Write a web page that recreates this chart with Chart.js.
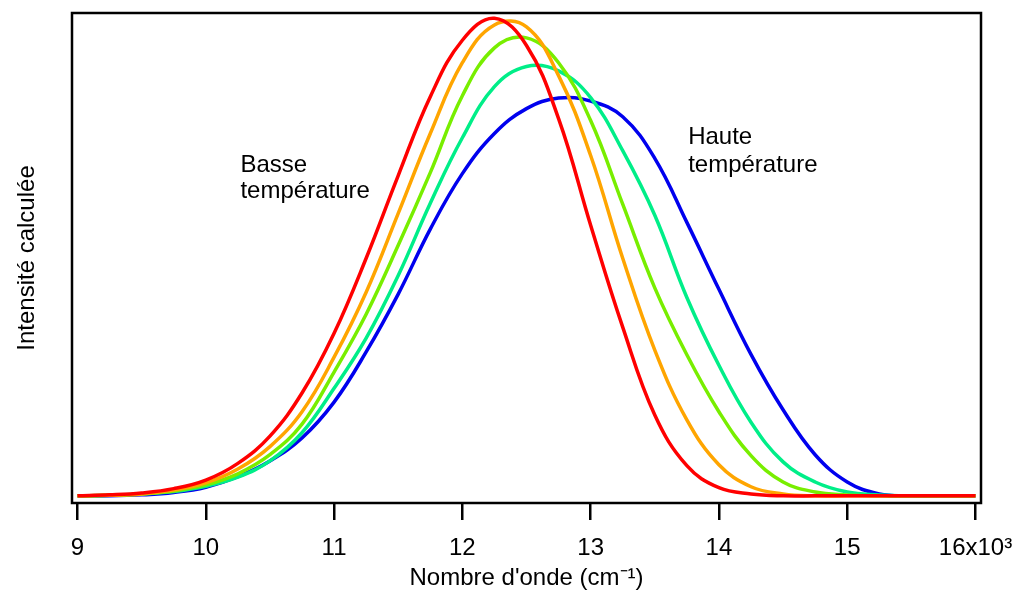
<!DOCTYPE html>
<html>
<head>
<meta charset="utf-8">
<script src="https://cdn.jsdelivr.net/npm/chart.js@4"></script>
<style>
  html, body { margin: 0; padding: 0; background: #fff; }
  #wrap { width: 1015px; height: 590px; }
</style>
</head>
<body>
<div id="wrap"><canvas id="spectre" width="1015" height="590"></canvas></div>
<script>
// nombre d'onde (x 10^3 cm-1)
const waveNumbers = [9, 9.25, 9.5, 9.75, 10, 10.25, 10.5, 10.75, 11, 11.25, 11.5, 11.75, 12, 12.25, 12.5, 12.75, 13, 13.25, 13.5, 13.75, 14, 14.25, 14.5, 14.75, 15, 15.25, 15.5, 15.75, 16];

// intensite calculee, basse -> haute temperature
const tempRed    = [0, 0.2, 0.6, 1.5, 3.3, 6.8, 12.5, 21.5, 34.0, 49.7, 67.0, 83.5, 95.3, 99.9, 94.2, 78.9, 56.6, 35.3, 16.9, 6.3, 1.7, 0.4, 0, 0, 0, 0, 0, 0, 0];
const tempOrange = [0, 0.1, 0.4, 1.2, 2.7, 5.6, 10.3, 17.6, 29.0, 42.6, 59.1, 75.8, 90.6, 98.5, 98.1, 87.9, 71.2, 49.7, 30.5, 15.9, 6.5, 1.9, 0.4, 0, 0, 0, 0, 0, 0];
const tempGreen  = [0, 0.1, 0.4, 1.0, 2.3, 4.6, 8.6, 15.0, 25.9, 38.0, 52.4, 67.6, 83.7, 93.7, 95.8, 90.6, 78.5, 61.0, 43.5, 29.5, 17.6, 8.4, 2.9, 0.8, 0.2, 0, 0, 0, 0];
const tempTeal   = [0, 0.1, 0.4, 0.9, 2.0, 3.9, 7.3, 13.2, 22.5, 33.0, 46.1, 61.2, 74.9, 85.6, 89.8, 88.9, 83.3, 72.2, 58.7, 41.5, 27.3, 15.4, 7.1, 2.9, 0.8, 0.2, 0, 0, 0];
const tempBlue   = [0, 0, 0.2, 0.7, 1.8, 4.0, 7.3, 12.1, 19.6, 30.1, 42.2, 55.8, 67.4, 75.8, 81.0, 83.2, 82.6, 79.3, 70.6, 57.2, 43.2, 29.6, 18.0, 8.6, 2.9, 0.4, 0, 0, 0];

const tickValues = [9, 10, 11, 12, 13, 14, 15, 16];
const tickLabels = ['9', '10', '11', '12', '13', '14', '15', '16x10\u00b3'];

const notes = [
  { text: 'Basse', x: 10.27, y: 67.8 },
  { text: 'température', x: 10.27, y: 62.2 },
  { text: 'Haute', x: 13.76, y: 73.6 },
  { text: 'température', x: 13.76, y: 67.8 },
];

const FONT = "'Liberation Sans', Arial, sans-serif";

const toPoints = (ys) => waveNumbers.map((x, i) => ({ x: x, y: ys[i] }));

const series = [
  { data: tempRed, color: '#ff0000' },
  { data: tempOrange, color: '#ffa500' },
  { data: tempGreen, color: '#78ee00' },
  { data: tempTeal, color: '#00ee88' },
  { data: tempBlue, color: '#0000ee' },
];

const framePlugin = {
  id: 'frame',
  afterDatasetsDraw(chart) {
    const { ctx, chartArea: a, scales } = chart;
    ctx.save();
    ctx.strokeStyle = '#000';
    ctx.lineWidth = 2.5;
    ctx.strokeRect(a.left, a.top, a.right - a.left, a.bottom - a.top);

    ctx.fillStyle = '#000';
    ctx.font = '24px ' + FONT;
    ctx.textAlign = 'left';
    ctx.textBaseline = 'alphabetic';
    notes.forEach(n => {
      ctx.fillText(n.text, scales.x.getPixelForValue(n.x), scales.y.getPixelForValue(n.y));
    });
    ctx.restore();
  }
};

new Chart(document.getElementById('spectre').getContext('2d'), {
  type: 'line',
  data: {
    datasets: series.map(s => ({
      data: toPoints(s.data),
      borderColor: s.color,
      borderWidth: 3.5,
      pointRadius: 0,
      fill: false,
      tension: 0.4,
    }))
  },
  options: {
    responsive: false,
    animation: false,
    devicePixelRatio: 1,
    layout: { padding: { top: 13, right: 34, left: 0, bottom: 0 } },
    plugins: { legend: { display: false }, tooltip: { enabled: false } },
    scales: {
      x: {
        type: 'linear',
        min: 8.957,
        max: 16.043,
        afterBuildTicks: (scale) => { scale.ticks = tickValues.map(v => ({ value: v })); },
        afterFit: (scale) => {
          scale.height = 87;
          scale.paddingLeft = 0;
          scale.paddingRight = 0;
        },
        border: { display: false },
        grid: {
          display: true,
          drawOnChartArea: false,
          drawTicks: true,
          tickLength: 17,
          color: '#000',
          lineWidth: 2.5,
        },
        ticks: {
          color: '#000',
          font: { family: FONT, size: 24 },
          padding: 14,
          maxRotation: 0,
          autoSkip: false,
          callback: (v) => tickLabels[tickValues.indexOf(v)],
        },
        title: {
          display: true,
          text: "Nombre d'onde (cm\u207b\u00b9)",
          color: '#000',
          font: { family: FONT, size: 24 },
          padding: { top: 0, bottom: -3 },
        },
      },
      y: {
        type: 'linear',
        min: -1.5,
        max: 101,
        afterFit: (scale) => { scale.width = 72; },
        border: { display: false },
        grid: { display: false },
        ticks: { display: false },
        title: {
          display: true,
          text: 'Intensité calculée',
          color: '#000',
          font: { family: FONT, size: 24 },
          padding: { top: 13, bottom: 0 },
        },
      },
    },
  },
  plugins: [framePlugin],
});
</script>
</body>
</html>
